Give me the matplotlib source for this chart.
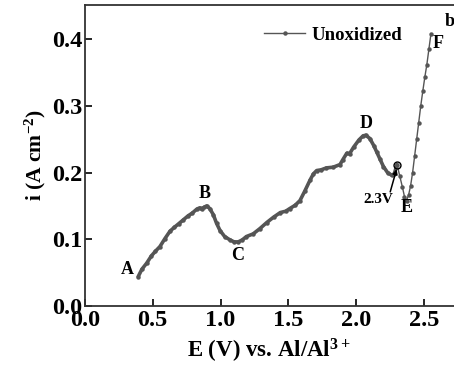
import matplotlib
matplotlib.use('Agg')
import matplotlib.pyplot as plt

# data
E = [0.393, 0.42, 0.455, 0.49, 0.52, 0.553, 0.59, 0.627, 0.66, 0.69, 0.725, 0.76, 0.79,
     0.824, 0.845, 0.86, 0.88, 0.897, 0.92, 0.946, 0.97, 0.996, 1.03, 1.069, 1.10, 1.13,
     1.16, 1.19, 1.24, 1.29, 1.34, 1.39, 1.44, 1.48, 1.51, 1.55, 1.585, 1.62, 1.66, 1.684,
     1.708, 1.74, 1.78, 1.83, 1.88, 1.90, 1.93, 1.95, 1.98, 2.02, 2.05, 2.07, 2.10, 2.13,
     2.15, 2.175, 2.20, 2.23, 2.26, 2.28, 2.30, 2.32, 2.34, 2.355, 2.37, 2.385, 2.40,
     2.415, 2.43, 2.445, 2.46, 2.475, 2.49, 2.505, 2.52, 2.535, 2.55]
i = [0.044, 0.055, 0.064, 0.075, 0.082, 0.089, 0.101, 0.112, 0.118, 0.123, 0.129, 0.135, 0.139,
     0.145, 0.147, 0.146, 0.148, 0.150, 0.146, 0.137, 0.124, 0.113, 0.104, 0.099, 0.096, 0.096,
     0.099, 0.104, 0.108, 0.116, 0.125, 0.133, 0.140, 0.142, 0.146, 0.151, 0.158, 0.172, 0.189, 0.198,
     0.203, 0.204, 0.207, 0.208, 0.212, 0.219, 0.229, 0.228, 0.238, 0.249, 0.255, 0.256, 0.251, 0.240,
     0.231, 0.220, 0.209, 0.200, 0.196, 0.198, 0.212, 0.195, 0.178, 0.164, 0.158, 0.166, 0.180,
     0.200, 0.225, 0.250, 0.275, 0.300, 0.322, 0.343, 0.362, 0.385, 0.408]
n_dense = 61  # points up to the 2.3 V mark, sampled densely in the original

point_labels = ['A', 'B', 'C', 'D', 'E', 'F', 'b']
point_E = [0.31, 0.885, 1.128, 2.07, 2.375, 2.60, 2.69]
point_i = [0.054, 0.169, 0.075, 0.273, 0.147, 0.394, 0.426]

plt.rcParams['font.family'] = ['Liberation Serif', 'DejaVu Serif']
plt.rcParams['font.weight'] = 'bold'
plt.rcParams['mathtext.fontset'] = 'custom'
plt.rcParams['mathtext.rm'] = 'Liberation Serif:bold'
plt.rcParams['mathtext.default'] = 'rm'

fig = plt.figure(figsize=(4.54, 3.69), dpi=100)
ax = fig.add_axes([0.187, 0.171, 0.813, 0.815])

gray = '#555555'
ax.plot(E, i, color=gray, lw=1.0, marker='o', ms=2.2, mfc=gray, mec=gray, label='Unoxidized')
ax.plot(E[:n_dense], i[:n_dense], color=gray, lw=2.6, solid_capstyle='round')

for lab, x, y in zip(point_labels, point_E, point_i):
    ax.text(x, y, lab, fontsize=13, fontweight='bold', ha='center', va='center', clip_on=False)

# 2.3 V marker
ax.plot([2.30], [0.212], marker='o', ms=5, mfc='none', mec='black', mew=1)
ax.text(2.16, 0.160, '2.3V', fontsize=11, fontweight='bold', ha='center', va='center')
ax.annotate('', xy=(2.297, 0.205), xytext=(2.25, 0.171),
            arrowprops=dict(arrowstyle='-|>', color='black', lw=1.1, shrinkA=0, shrinkB=0,
                            mutation_scale=7))

ax.set_xlim(0, 2.72)
ax.set_ylim(0, 0.451)
ax.set_xticks([0.0, 0.5, 1.0, 1.5, 2.0, 2.5])
ax.set_yticks([0.0, 0.1, 0.2, 0.3, 0.4])
ax.set_xticklabels(['0.0', '0.5', '1.0', '1.5', '2.0', '2.5'])
ax.set_yticklabels(['0.0', '0.1', '0.2', '0.3', '0.4'])
ax.tick_params(direction='in', length=5, width=1.2, labelsize=17.5, colors='black', pad=2)
ax.tick_params(axis='x', pad=3)
for lab in ax.get_xticklabels() + ax.get_yticklabels():
    lab.set_fontweight('bold')
for s in ['left', 'bottom', 'top']:
    ax.spines[s].set_linewidth(1.3)
    ax.spines[s].set_color('#333333')
ax.spines['right'].set_visible(False)

ax.set_xlabel(r'E (V) vs. Al/Al$^{3+}$', fontsize=16.5, fontweight='bold', labelpad=4)
ax.set_ylabel(r'i (A cm$^{-2}$)', fontsize=15.5, fontweight='bold', labelpad=3)

ax.legend(loc='upper left', bbox_to_anchor=(0.44, 0.985), frameon=False, fontsize=13.5,
          handlelength=2.2, markerscale=1, handletextpad=0.3)

fig.savefig('out.png', dpi=100)
